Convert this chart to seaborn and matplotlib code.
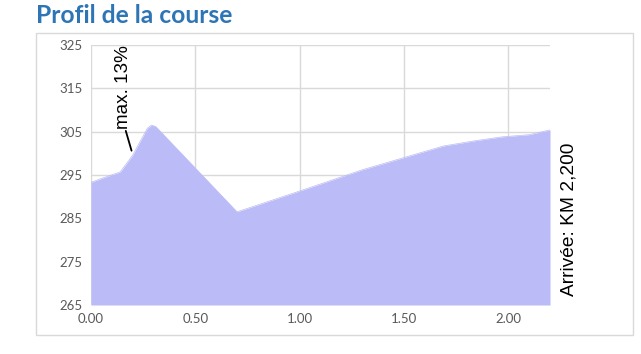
import matplotlib
matplotlib.use("Agg")
import matplotlib.pyplot as plt
import seaborn as sns
import pandas as pd
from matplotlib.patches import Rectangle

# Data
dist_km = [0.00, 0.05, 0.14, 0.20, 0.27, 0.29, 0.31, 0.70, 1.00, 1.30, 1.69, 1.84, 1.97, 2.10, 2.20]
altitude = [293.3, 294.2, 295.7, 299.6, 305.8, 306.5, 306.2, 286.5, 291.3, 296.2, 301.7, 302.9, 303.8, 304.3, 305.4]
x_ticks = [0.0, 0.5, 1.0, 1.5, 2.0]
x_tick_labels = ["0.00", "0.50", "1.00", "1.50", "2.00"]
y_ticks = [265, 275, 285, 295, 305, 315, 325]
title = "Profil de la course"
note_max = "max. 13%"
note_end = "Arrivée: KM 2,200"

df = pd.DataFrame({"km": dist_km, "alt": altitude})

sns.set_theme(style="whitegrid")
plt.rcParams['font.family'] = ['Lato', 'DejaVu Sans']

fig = plt.figure(figsize=(6.41, 3.54), dpi=100)
ax = fig.add_axes([91/641, 1-305/354, (550-91)/641, (305-45)/354])

fill_color = "#BBBBF7"
sns.lineplot(data=df, x="km", y="alt", ax=ax, color=fill_color, linewidth=0.5)
ax.fill_between(df["km"], 265, df["alt"], color=fill_color, linewidth=0, zorder=2)

ax.set_xlim(0, 2.2)
ax.set_ylim(265, 325)
ax.set_xticks(x_ticks)
ax.set_xticklabels(x_tick_labels)
ax.set_yticks(y_ticks)
ax.set_xlabel("")
ax.set_ylabel("")
ax.tick_params(axis="both", colors="#595959", labelsize=9.5, length=0, pad=6)
for s in ax.spines.values():
    s.set_visible(False)
ax.grid(True, color="#D9D9D9", linewidth=1.0)
ax.set_axisbelow(True)
ax.set_facecolor("white")

# annotations
ax.text(0.158, 315.4, note_max, rotation=90, ha="center", va="center",
        fontsize=13.6, family=["Liberation Sans", "DejaVu Sans"], color="black")
ax.annotate("", xy=(0.198, 300.0), xytext=(0.163, 305.8),
            arrowprops=dict(arrowstyle="-", color="black", lw=1.3))
ax.text(2.289, 284.7, note_end, rotation=90, ha="center", va="center",
        fontsize=13.8, family=["Liberation Sans", "DejaVu Sans"], color="black",
        clip_on=False)

# outer chart border
fig.patches.append(Rectangle((36/641, 1-335/354), (633-36)/641, (335-33)/354,
                             transform=fig.transFigure, fill=False,
                             edgecolor="#D9D9D9", linewidth=1.0))

fig.text(36/641, 1-23/354, title, fontsize=17.7, fontweight="bold",
         color="#2E75B6", ha="left", va="baseline")

fig.savefig("out.png", dpi=100)
